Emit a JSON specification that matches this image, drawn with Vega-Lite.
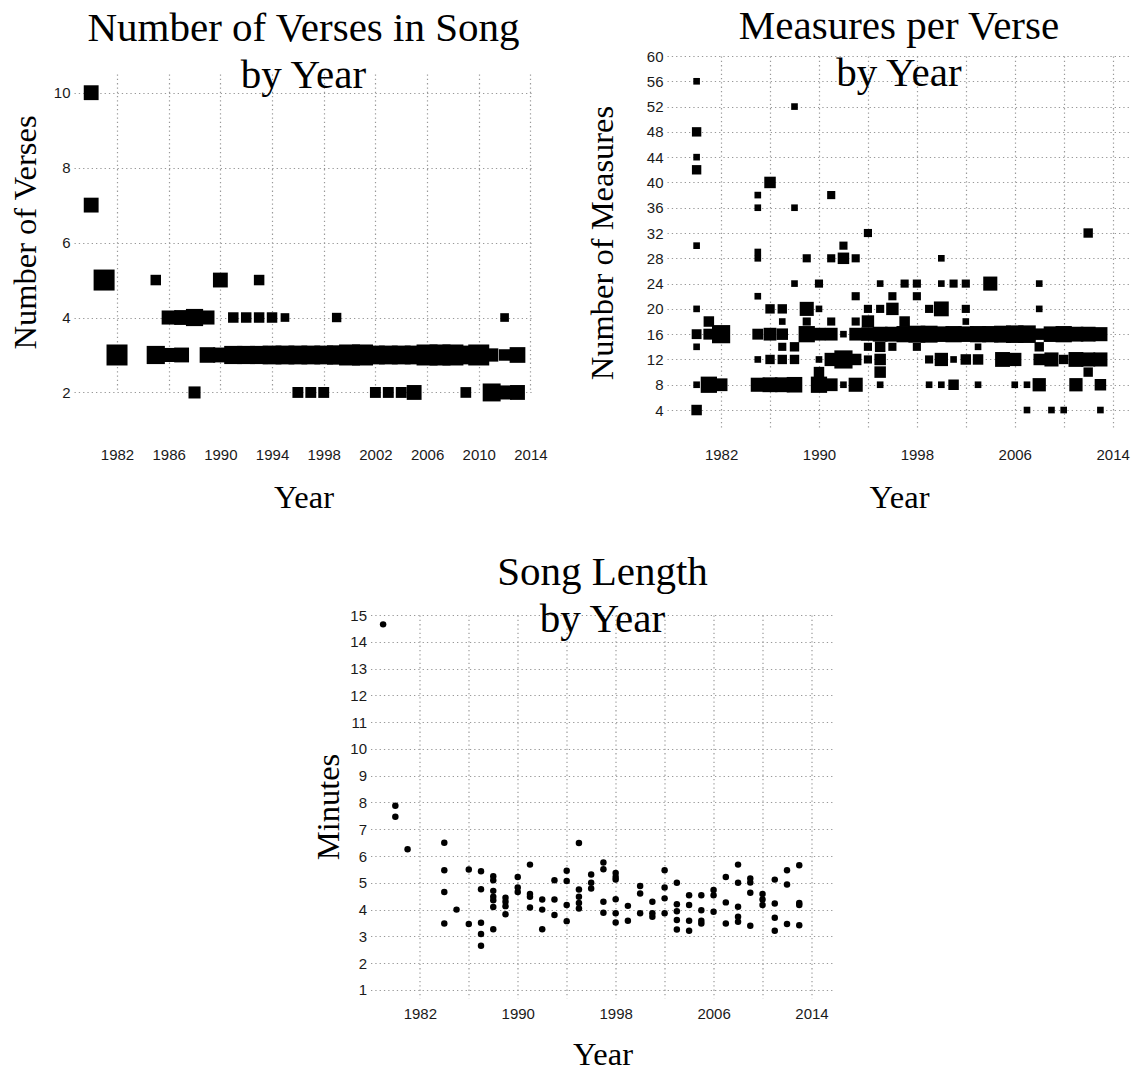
{
  "$schema": "https://vega.github.io/schema/vega-lite/v6.json",
  "background": "white",
  "padding": {"left": 9, "top": 5, "right": 0, "bottom": 0},
  "config": {
    "view": {"stroke": null},
    "title": {"font": "Liberation Serif", "fontSize": 41, "fontWeight": "normal", "color": "#000000", "lineHeight": 47.5, "anchor": "middle", "frame": "group", "baseline": "alphabetic"},
    "axis": {"domain": false, "ticks": false, "grid": true, "gridColor": "#999999", "gridDash": [1.3, 3], "gridWidth": 1.2, "labelFont": "Liberation Sans", "labelFontSize": 15, "labelColor": "#1a1a1a", "labelOverlap": false, "labelFlush": false, "titleFont": "Liberation Serif", "titleFontSize": 32.5, "titleFontWeight": "normal", "titleColor": "#000000"}
  },
  "datasets": {
    "verses": [
      {"year": 1980, "verses": 10, "share": 0.5}, {"year": 1980, "verses": 7, "share": 0.5},
      {"year": 1981, "verses": 5, "share": 1.0},
      {"year": 1982, "verses": 3, "share": 1.0},
      {"year": 1985, "verses": 5, "share": 0.25}, {"year": 1985, "verses": 3, "share": 0.75},
      {"year": 1986, "verses": 4, "share": 0.45}, {"year": 1986, "verses": 3, "share": 0.45},
      {"year": 1987, "verses": 4, "share": 0.5}, {"year": 1987, "verses": 3, "share": 0.5},
      {"year": 1988, "verses": 4, "share": 0.67}, {"year": 1988, "verses": 2, "share": 0.33},
      {"year": 1989, "verses": 4, "share": 0.45}, {"year": 1989, "verses": 3, "share": 0.55},
      {"year": 1990, "verses": 5, "share": 0.5}, {"year": 1990, "verses": 3, "share": 0.5},
      {"year": 1991, "verses": 4, "share": 0.25}, {"year": 1991, "verses": 3, "share": 0.75},
      {"year": 1992, "verses": 4, "share": 0.25}, {"year": 1992, "verses": 3, "share": 0.75},
      {"year": 1993, "verses": 5, "share": 0.25}, {"year": 1993, "verses": 4, "share": 0.25}, {"year": 1993, "verses": 3, "share": 0.75},
      {"year": 1994, "verses": 4, "share": 0.25}, {"year": 1994, "verses": 3, "share": 0.8},
      {"year": 1995, "verses": 4, "share": 0.17}, {"year": 1995, "verses": 3, "share": 0.8},
      {"year": 1996, "verses": 2, "share": 0.27}, {"year": 1996, "verses": 3, "share": 0.8},
      {"year": 1997, "verses": 2, "share": 0.27}, {"year": 1997, "verses": 3, "share": 0.8},
      {"year": 1998, "verses": 2, "share": 0.27}, {"year": 1998, "verses": 3, "share": 0.8},
      {"year": 1999, "verses": 4, "share": 0.2}, {"year": 1999, "verses": 3, "share": 0.85},
      {"year": 2000, "verses": 3, "share": 1.0},
      {"year": 2001, "verses": 3, "share": 1.0},
      {"year": 2002, "verses": 2, "share": 0.27}, {"year": 2002, "verses": 3, "share": 0.8},
      {"year": 2003, "verses": 2, "share": 0.27}, {"year": 2003, "verses": 3, "share": 0.8},
      {"year": 2004, "verses": 2, "share": 0.27}, {"year": 2004, "verses": 3, "share": 0.8},
      {"year": 2005, "verses": 2, "share": 0.5}, {"year": 2005, "verses": 3, "share": 0.8},
      {"year": 2006, "verses": 3, "share": 1.0},
      {"year": 2007, "verses": 3, "share": 1.0},
      {"year": 2008, "verses": 3, "share": 1.0},
      {"year": 2009, "verses": 2, "share": 0.26}, {"year": 2009, "verses": 3, "share": 0.8},
      {"year": 2010, "verses": 3, "share": 1.0},
      {"year": 2011, "verses": 2, "share": 0.73}, {"year": 2011, "verses": 3, "share": 0.4},
      {"year": 2012, "verses": 4, "share": 0.17}, {"year": 2012, "verses": 3, "share": 0.3}, {"year": 2012, "verses": 2, "share": 0.45},
      {"year": 2013, "verses": 3, "share": 0.56}, {"year": 2013, "verses": 2, "share": 0.5}
    ],
    "measures": [
      {"year": 1980, "measures": 56, "share": 0.1}, {"year": 1980, "measures": 48, "share": 0.2}, {"year": 1980, "measures": 44, "share": 0.1}, {"year": 1980, "measures": 42, "share": 0.2}, {"year": 1980, "measures": 30, "share": 0.1}, {"year": 1980, "measures": 20, "share": 0.1}, {"year": 1980, "measures": 16, "share": 0.22}, {"year": 1980, "measures": 14, "share": 0.1}, {"year": 1980, "measures": 8, "share": 0.1}, {"year": 1980, "measures": 4, "share": 0.25},
      {"year": 1981, "measures": 18, "share": 0.25}, {"year": 1981, "measures": 16, "share": 0.27}, {"year": 1981, "measures": 8, "share": 0.6},
      {"year": 1982, "measures": 16, "share": 0.75}, {"year": 1982, "measures": 8, "share": 0.37},
      {"year": 1985, "measures": 38, "share": 0.1}, {"year": 1985, "measures": 36, "share": 0.1}, {"year": 1985, "measures": 29, "share": 0.1}, {"year": 1985, "measures": 28, "share": 0.1}, {"year": 1985, "measures": 22, "share": 0.1}, {"year": 1985, "measures": 16, "share": 0.27}, {"year": 1985, "measures": 12, "share": 0.1}, {"year": 1985, "measures": 8, "share": 0.45},
      {"year": 1986, "measures": 40, "share": 0.3}, {"year": 1986, "measures": 20, "share": 0.2}, {"year": 1986, "measures": 16, "share": 0.37}, {"year": 1986, "measures": 12, "share": 0.2}, {"year": 1986, "measures": 8, "share": 0.5},
      {"year": 1987, "measures": 20, "share": 0.2}, {"year": 1987, "measures": 18, "share": 0.1}, {"year": 1987, "measures": 16, "share": 0.3}, {"year": 1987, "measures": 14, "share": 0.15}, {"year": 1987, "measures": 12, "share": 0.2}, {"year": 1987, "measures": 8, "share": 0.5},
      {"year": 1988, "measures": 52, "share": 0.1}, {"year": 1988, "measures": 36, "share": 0.1}, {"year": 1988, "measures": 24, "share": 0.1}, {"year": 1988, "measures": 14, "share": 0.2}, {"year": 1988, "measures": 12, "share": 0.2}, {"year": 1988, "measures": 8, "share": 0.55},
      {"year": 1989, "measures": 28, "share": 0.15}, {"year": 1989, "measures": 20, "share": 0.45}, {"year": 1989, "measures": 18, "share": 0.15}, {"year": 1989, "measures": 16, "share": 0.6},
      {"year": 1990, "measures": 24, "share": 0.15}, {"year": 1990, "measures": 20, "share": 0.1}, {"year": 1990, "measures": 16, "share": 0.37}, {"year": 1990, "measures": 12, "share": 0.1}, {"year": 1990, "measures": 10, "share": 0.25}, {"year": 1990, "measures": 8, "share": 0.6},
      {"year": 1991, "measures": 38, "share": 0.15}, {"year": 1991, "measures": 28, "share": 0.15}, {"year": 1991, "measures": 18, "share": 0.15}, {"year": 1991, "measures": 16, "share": 0.37}, {"year": 1991, "measures": 12, "share": 0.4}, {"year": 1991, "measures": 8, "share": 0.37},
      {"year": 1992, "measures": 30, "share": 0.15}, {"year": 1992, "measures": 28, "share": 0.3}, {"year": 1992, "measures": 16, "share": 0.1}, {"year": 1992, "measures": 12, "share": 0.75}, {"year": 1992, "measures": 8, "share": 0.1},
      {"year": 1993, "measures": 28, "share": 0.15}, {"year": 1993, "measures": 22, "share": 0.15}, {"year": 1993, "measures": 18, "share": 0.15}, {"year": 1993, "measures": 16, "share": 0.37}, {"year": 1993, "measures": 12, "share": 0.3}, {"year": 1993, "measures": 8, "share": 0.45},
      {"year": 1994, "measures": 32, "share": 0.15}, {"year": 1994, "measures": 20, "share": 0.15}, {"year": 1994, "measures": 18, "share": 0.35}, {"year": 1994, "measures": 16, "share": 0.4}, {"year": 1994, "measures": 14, "share": 0.15}, {"year": 1994, "measures": 12, "share": 0.15},
      {"year": 1995, "measures": 24, "share": 0.1}, {"year": 1995, "measures": 20, "share": 0.15}, {"year": 1995, "measures": 16, "share": 0.5}, {"year": 1995, "measures": 14, "share": 0.25}, {"year": 1995, "measures": 12, "share": 0.3}, {"year": 1995, "measures": 10, "share": 0.3}, {"year": 1995, "measures": 8, "share": 0.1},
      {"year": 1996, "measures": 22, "share": 0.15}, {"year": 1996, "measures": 20, "share": 0.35}, {"year": 1996, "measures": 16, "share": 0.5}, {"year": 1996, "measures": 14, "share": 0.15},
      {"year": 1997, "measures": 24, "share": 0.15}, {"year": 1997, "measures": 18, "share": 0.25}, {"year": 1997, "measures": 16, "share": 0.6},
      {"year": 1998, "measures": 24, "share": 0.15}, {"year": 1998, "measures": 22, "share": 0.15}, {"year": 1998, "measures": 16, "share": 0.65}, {"year": 1998, "measures": 14, "share": 0.15},
      {"year": 1999, "measures": 20, "share": 0.15}, {"year": 1999, "measures": 16, "share": 0.65}, {"year": 1999, "measures": 12, "share": 0.15}, {"year": 1999, "measures": 8, "share": 0.1},
      {"year": 2000, "measures": 28, "share": 0.1}, {"year": 2000, "measures": 24, "share": 0.1}, {"year": 2000, "measures": 20, "share": 0.5}, {"year": 2000, "measures": 16, "share": 0.55}, {"year": 2000, "measures": 12, "share": 0.4}, {"year": 2000, "measures": 8, "share": 0.1},
      {"year": 2001, "measures": 24, "share": 0.15}, {"year": 2001, "measures": 16, "share": 0.6}, {"year": 2001, "measures": 12, "share": 0.1}, {"year": 2001, "measures": 8, "share": 0.25},
      {"year": 2002, "measures": 24, "share": 0.15}, {"year": 2002, "measures": 20, "share": 0.15}, {"year": 2002, "measures": 18, "share": 0.1}, {"year": 2002, "measures": 16, "share": 0.55}, {"year": 2002, "measures": 12, "share": 0.25},
      {"year": 2003, "measures": 16, "share": 0.6}, {"year": 2003, "measures": 14, "share": 0.1}, {"year": 2003, "measures": 12, "share": 0.25}, {"year": 2003, "measures": 8, "share": 0.1},
      {"year": 2004, "measures": 24, "share": 0.45}, {"year": 2004, "measures": 16, "share": 0.6},
      {"year": 2005, "measures": 16, "share": 0.65}, {"year": 2005, "measures": 12, "share": 0.5},
      {"year": 2006, "measures": 16, "share": 0.7}, {"year": 2006, "measures": 12, "share": 0.4}, {"year": 2006, "measures": 8, "share": 0.1},
      {"year": 2007, "measures": 16, "share": 0.7}, {"year": 2007, "measures": 8, "share": 0.1}, {"year": 2007, "measures": 4, "share": 0.1},
      {"year": 2008, "measures": 24, "share": 0.1}, {"year": 2008, "measures": 20, "share": 0.1}, {"year": 2008, "measures": 16, "share": 0.3}, {"year": 2008, "measures": 14, "share": 0.2}, {"year": 2008, "measures": 12, "share": 0.3}, {"year": 2008, "measures": 8, "share": 0.4},
      {"year": 2009, "measures": 16, "share": 0.55}, {"year": 2009, "measures": 12, "share": 0.45}, {"year": 2009, "measures": 4, "share": 0.1},
      {"year": 2010, "measures": 16, "share": 0.6}, {"year": 2010, "measures": 12, "share": 0.2}, {"year": 2010, "measures": 4, "share": 0.1},
      {"year": 2011, "measures": 16, "share": 0.5}, {"year": 2011, "measures": 12, "share": 0.5}, {"year": 2011, "measures": 8, "share": 0.4},
      {"year": 2012, "measures": 32, "share": 0.2}, {"year": 2012, "measures": 16, "share": 0.5}, {"year": 2012, "measures": 12, "share": 0.45}, {"year": 2012, "measures": 10, "share": 0.2},
      {"year": 2013, "measures": 16, "share": 0.45}, {"year": 2013, "measures": 12, "share": 0.45}, {"year": 2013, "measures": 8, "share": 0.3}, {"year": 2013, "measures": 4, "share": 0.1}
    ],
    "length": [
      {"year": 1979, "minutes": 14.65},
      {"year": 1980, "minutes": 7.88}, {"year": 1980, "minutes": 7.47},
      {"year": 1981, "minutes": 6.25},
      {"year": 1984, "minutes": 6.5}, {"year": 1984, "minutes": 5.47}, {"year": 1984, "minutes": 4.66}, {"year": 1984, "minutes": 3.48},
      {"year": 1985, "minutes": 4.0},
      {"year": 1986, "minutes": 5.5}, {"year": 1986, "minutes": 3.46},
      {"year": 1987, "minutes": 5.43}, {"year": 1987, "minutes": 4.76}, {"year": 1987, "minutes": 3.51}, {"year": 1987, "minutes": 3.09}, {"year": 1987, "minutes": 2.65},
      {"year": 1988, "minutes": 5.25}, {"year": 1988, "minutes": 5.1}, {"year": 1988, "minutes": 4.7}, {"year": 1988, "minutes": 4.48}, {"year": 1988, "minutes": 4.35}, {"year": 1988, "minutes": 4.1}, {"year": 1988, "minutes": 3.27},
      {"year": 1989, "minutes": 4.44}, {"year": 1989, "minutes": 4.29}, {"year": 1989, "minutes": 4.13}, {"year": 1989, "minutes": 3.83},
      {"year": 1990, "minutes": 5.22}, {"year": 1990, "minutes": 4.83}, {"year": 1990, "minutes": 4.66},
      {"year": 1991, "minutes": 5.68}, {"year": 1991, "minutes": 4.58}, {"year": 1991, "minutes": 4.48}, {"year": 1991, "minutes": 4.08},
      {"year": 1992, "minutes": 4.38}, {"year": 1992, "minutes": 4.0}, {"year": 1992, "minutes": 3.27},
      {"year": 1993, "minutes": 5.1}, {"year": 1993, "minutes": 4.38}, {"year": 1993, "minutes": 3.8},
      {"year": 1994, "minutes": 5.45}, {"year": 1994, "minutes": 5.07}, {"year": 1994, "minutes": 4.17}, {"year": 1994, "minutes": 3.57},
      {"year": 1995, "minutes": 6.49}, {"year": 1995, "minutes": 4.75}, {"year": 1995, "minutes": 4.48}, {"year": 1995, "minutes": 4.25}, {"year": 1995, "minutes": 4.04},
      {"year": 1996, "minutes": 5.31}, {"year": 1996, "minutes": 5.0}, {"year": 1996, "minutes": 4.79},
      {"year": 1997, "minutes": 5.76}, {"year": 1997, "minutes": 5.51}, {"year": 1997, "minutes": 4.29}, {"year": 1997, "minutes": 3.88},
      {"year": 1998, "minutes": 5.37}, {"year": 1998, "minutes": 5.22}, {"year": 1998, "minutes": 5.12}, {"year": 1998, "minutes": 4.39}, {"year": 1998, "minutes": 3.86}, {"year": 1998, "minutes": 3.52},
      {"year": 1999, "minutes": 4.14}, {"year": 1999, "minutes": 3.58},
      {"year": 2000, "minutes": 4.88}, {"year": 2000, "minutes": 4.6}, {"year": 2000, "minutes": 3.86},
      {"year": 2001, "minutes": 4.29}, {"year": 2001, "minutes": 3.86}, {"year": 2001, "minutes": 3.73},
      {"year": 2002, "minutes": 5.47}, {"year": 2002, "minutes": 4.83}, {"year": 2002, "minutes": 4.42}, {"year": 2002, "minutes": 3.86},
      {"year": 2003, "minutes": 5.0}, {"year": 2003, "minutes": 4.2}, {"year": 2003, "minutes": 3.94}, {"year": 2003, "minutes": 3.61}, {"year": 2003, "minutes": 3.26},
      {"year": 2004, "minutes": 4.54}, {"year": 2004, "minutes": 4.17}, {"year": 2004, "minutes": 3.58}, {"year": 2004, "minutes": 3.21},
      {"year": 2005, "minutes": 4.54}, {"year": 2005, "minutes": 3.98}, {"year": 2005, "minutes": 3.58}, {"year": 2005, "minutes": 3.48},
      {"year": 2006, "minutes": 4.73}, {"year": 2006, "minutes": 4.54}, {"year": 2006, "minutes": 3.92},
      {"year": 2007, "minutes": 5.22}, {"year": 2007, "minutes": 4.27}, {"year": 2007, "minutes": 3.48},
      {"year": 2008, "minutes": 5.68}, {"year": 2008, "minutes": 5.0}, {"year": 2008, "minutes": 4.11}, {"year": 2008, "minutes": 3.73}, {"year": 2008, "minutes": 3.55},
      {"year": 2009, "minutes": 5.16}, {"year": 2009, "minutes": 5.01}, {"year": 2009, "minutes": 4.63}, {"year": 2009, "minutes": 3.4},
      {"year": 2010, "minutes": 4.58}, {"year": 2010, "minutes": 4.38}, {"year": 2010, "minutes": 4.17},
      {"year": 2011, "minutes": 5.12}, {"year": 2011, "minutes": 4.23}, {"year": 2011, "minutes": 3.7}, {"year": 2011, "minutes": 3.21},
      {"year": 2012, "minutes": 5.47}, {"year": 2012, "minutes": 4.94}, {"year": 2012, "minutes": 3.46},
      {"year": 2013, "minutes": 5.66}, {"year": 2013, "minutes": 4.25}, {"year": 2013, "minutes": 4.17}, {"year": 2013, "minutes": 3.42}
    ]
  },
  "spacing": 37,
  "center": true,
  "vconcat": [
    {
      "spacing": 38,
      "hconcat": [
        {
          "width": 459,
          "height": 373,
          "title": {"text": ["Number of Verses in Song", "by Year"], "offset": -41},
          "data": {"name": "verses"},
          "mark": {"type": "square", "filled": true, "color": "#000000", "opacity": 1},
          "encoding": {
            "x": {"field": "year", "type": "quantitative", "scale": {"domain": [1978.67, 2014.2], "nice": false, "zero": false},
                  "axis": {"title": "Year", "values": [1982, 1986, 1990, 1994, 1998, 2002, 2006, 2010, 2014], "format": "d", "labelPadding": 18, "titlePadding": 19}},
            "y": {"field": "verses", "type": "quantitative", "scale": {"domain": [1.505, 10], "range": [355, 36.7], "nice": false, "zero": false},
                  "axis": {"title": "Number of Verses", "values": [2, 4, 6, 8, 10], "labelPadding": 4, "titlePadding": 11, "titleY": 176}},
            "size": {"field": "share", "type": "quantitative", "scale": {"type": "linear", "domain": [0, 1], "range": [0, 441]}, "legend": null}
          }
        },
        {
          "width": 464,
          "height": 373,
          "title": {"text": ["Measures per Verse", "by Year"], "offset": -46},
          "data": {"name": "measures"},
          "mark": {"type": "square", "filled": true, "color": "#000000", "opacity": 1},
          "encoding": {
            "x": {"field": "year", "type": "quantitative", "scale": {"domain": [1977.58, 2015.5], "nice": false, "zero": false},
                  "axis": {"title": "Year", "values": [1982, 1986, 1990, 1994, 1998, 2002, 2006, 2010, 2014], "format": "d", "labelExpr": "(datum.value - 1982) % 8 == 0 ? datum.label : ''", "labelPadding": 18, "titlePadding": 19}},
            "y": {"field": "measures", "type": "quantitative", "scale": {"domain": [1, 60], "nice": false, "zero": false},
                  "axis": {"title": "Number of Measures", "values": [4, 8, 12, 16, 20, 24, 28, 32, 36, 40, 44, 48, 52, 56, 60], "labelPadding": 4, "titlePadding": 27}},
            "size": {"field": "share", "type": "quantitative", "scale": {"type": "linear", "domain": [0, 1], "range": [0, 441]}, "legend": null}
          }
        }
      ]
    },
    {
      "width": 464,
      "height": 383,
      "title": {"text": ["Song Length", "by Year"], "offset": -33},
      "data": {"name": "length"},
      "mark": {"type": "circle", "size": 42, "color": "#000000", "opacity": 1},
      "encoding": {
        "x": {"field": "year", "type": "quantitative", "scale": {"domain": [1977.97, 2015.88], "nice": false, "zero": false},
              "axis": {"title": "Year", "values": [1982, 1986, 1990, 1994, 1998, 2002, 2006, 2010, 2014], "format": "d", "labelExpr": "(datum.value - 1982) % 8 == 0 ? datum.label : ''", "labelPadding": 8, "titlePadding": 17}},
        "y": {"field": "minutes", "type": "quantitative", "scale": {"domain": [0.7, 15], "nice": false, "zero": false},
              "axis": {"title": "Minutes", "values": [1, 2, 3, 4, 5, 6, 7, 8, 9, 10, 11, 12, 13, 14, 15], "labelPadding": 4, "titlePadding": 4}}
      }
    }
  ]
}
